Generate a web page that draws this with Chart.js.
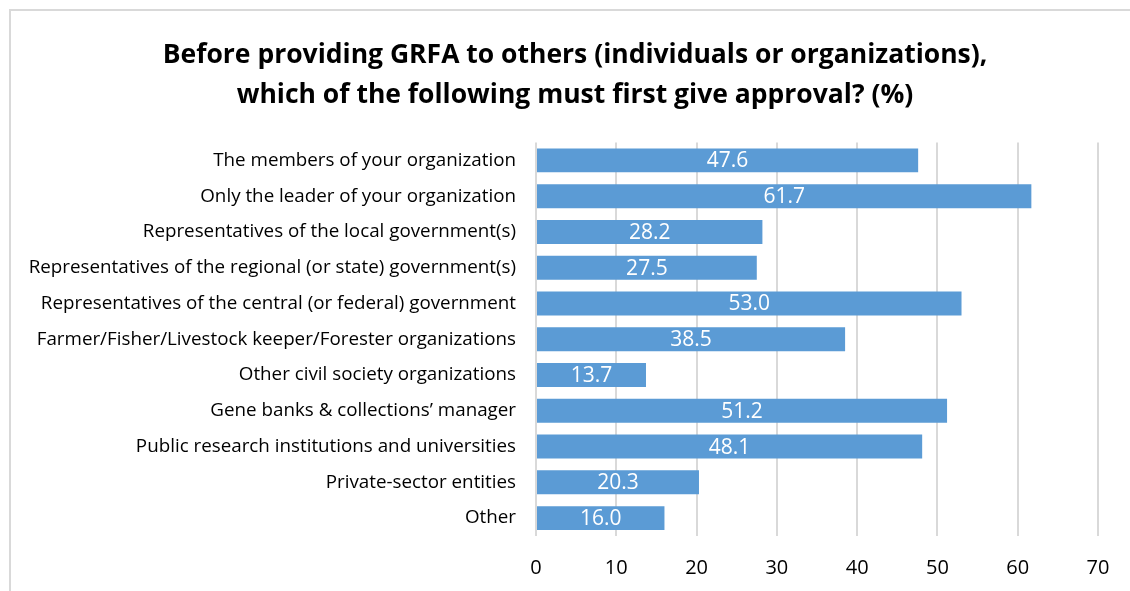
<!DOCTYPE html>
<html>
<head>
<meta charset="utf-8">
<script src="https://cdn.jsdelivr.net/npm/chart.js@4"></script>
<style>
  html, body { margin: 0; padding: 0; background: #fff; overflow: hidden; }
  #wrap { position: absolute; left: 0; top: 0; width: 1130px; height: 591px; overflow: hidden; }
  #frame { position: absolute; left: 9px; top: 9px; width: 1140px; height: 600px; border: 2px solid #d9d9d9; box-sizing: border-box; }
  canvas { position: absolute; left: 0; top: 0; }
</style>
</head>
<body>
<div id="wrap">
  <div id="frame"></div>
  <canvas id="myChart" width="1150" height="591"></canvas>
</div>
<script>
var categories = [
  "The members of your organization",
  "Only the leader of your organization",
  "Representatives of the local government(s)",
  "Representatives of the regional (or state) government(s)",
  "Representatives of the central (or federal) government",
  "Farmer/Fisher/Livestock keeper/Forester organizations",
  "Other civil society organizations",
  "Gene banks & collections\u2019 manager",
  "Public research institutions and universities",
  "Private-sector entities",
  "Other"
];
var values = [47.6, 61.7, 28.2, 27.5, 53.0, 38.5, 13.7, 51.2, 48.1, 20.3, 16.0];
var xTicks = [0, 10, 20, 30, 40, 50, 60, 70];
var titleLines = ["Before providing GRFA to others (individuals or organizations),",
                  "which of the following must first give approval? (%)"];

var fontFam = "'Open Sans', 'Noto Sans', sans-serif";
var titleSize = 26.5, titleLH = 1.5, titlePadTop = 36, titleCenterX = 575;

// white value labels in the middle of each bar
var barLabels = {
  id: 'barLabels',
  afterDatasetsDraw: function(chart){
    var ctx = chart.ctx;
    var meta = chart.getDatasetMeta(0);
    ctx.save();
    ctx.fillStyle = "#ffffff";
    ctx.font = "21px " + fontFam;
    ctx.textAlign = "center";
    ctx.textBaseline = "middle";
    meta.data.forEach(function(bar, i){
      var mid = (bar.x + bar.base) / 2;
      ctx.fillText(values[i].toFixed(1), mid, bar.y + 1);
    });
    ctx.restore();
  }
};

// the built-in title only reserves space; this draws it centred on the frame
var frameTitle = {
  id: 'frameTitle',
  afterDraw: function(chart){
    var ctx = chart.ctx;
    var top = chart.titleBlock.top + titlePadTop;
    var lh = titleSize * titleLH;
    ctx.save();
    ctx.fillStyle = "#000000";
    ctx.font = "bold " + titleSize + "px " + fontFam;
    ctx.textAlign = "center";
    ctx.textBaseline = "middle";
    titleLines.forEach(function(t, i){
      ctx.fillText(t, titleCenterX, top + lh * (i + 0.5));
    });
    ctx.restore();
  }
};

var ctx = document.getElementById('myChart');

var myBarChart = new Chart(ctx, {
  type: 'bar',
  data: {
    labels: categories,
    datasets: [{
      label: "",
      data: values,
      backgroundColor: "#5b9bd5",
      borderWidth: 0,
      barPercentage: 0.67,
      categoryPercentage: 1.0
    }]
  },
  options: {
    indexAxis: 'y',
    responsive: false,
    animation: false,
    layout: { padding: { left: 0, right: 52, top: 0, bottom: 0 } },
    plugins: {
      legend: { display: false },
      tooltip: { enabled: false },
      title: {
        display: true,
        text: titleLines,
        color: "rgba(0,0,0,0)",
        font: { family: fontFam, size: titleSize, weight: 'bold', lineHeight: titleLH },
        padding: { top: titlePadTop, bottom: 27 }
      }
    },
    scales: {
      x: {
        min: 0,
        max: 70,
        afterBuildTicks: function(scale){
          scale.ticks = xTicks.map(function(v){ return { value: v }; });
        },
        afterFit: function(scale){ scale.height = 55; },
        grid: { color: "#d9d9d9", lineWidth: 2, drawTicks: false },
        border: { display: false },
        ticks: { color: "#000000", padding: 20, font: { family: fontFam, size: 20 } }
      },
      y: {
        grid: { display: false, drawTicks: false },
        border: { display: false },
        afterFit: function(scale){ scale.width = 536; },
        ticks: { color: "#000000", padding: 20, font: { family: fontFam, size: 18.8 } }
      }
    }
  },
  plugins: [barLabels, frameTitle]
});
</script>
</body>
</html>
